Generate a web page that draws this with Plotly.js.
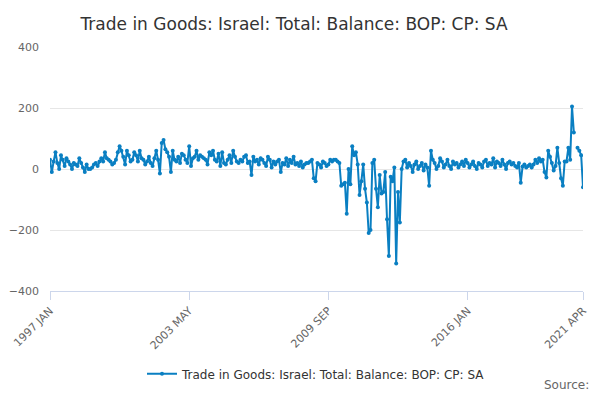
<!DOCTYPE html>
<html>
<head>
<script src="https://cdn.plot.ly/plotly-3.0.1.min.js"></script>
<style>body{margin:0}#chart{width:600px;height:400px}</style>
</head>
<body>
<div id="chart"></div>
<script>
var months = ['JAN','FEB','MAR','APR','MAY','JUN','JUL','AUG','SEP','OCT','NOV','DEC'];
var startYear = 1997;
var values = [
  30, -10, 25, 55, 20, 0, 45, 30, 10, 35, 25, 15,
  0, 20, 15, 10, 35, 20, 5, -10, 15, 0, 0, 5,
  15, 20, 10, 25, 35, 25, 55, 35, 30, 25, 15, 20,
  30, 55, 75, 60, 40, 15, 60, 45, 25, 30, 55, 45,
  25, 60, 35, 30, 15, 25, 40, 20, 10, 35, 60, 30,
  -15, 85, 95, 65, 55, 40, -10, 60, 30, 25, 40, 20,
  50, 45, 30, 20, 75, 10, 35, 40, 60, 30, 45, 40,
  35, 30, 15, 55, 45, 60, 30, 25, 50, 10, 55, 20,
  15, 30, 45, 20, 60, 40, 25, 20, 30, 25, 40, 45,
  20, 25, -20, 40, 25, 30, 15, 35, 30, 20, 10, 40,
  30, 5, 25, 15, 25, 30, -10, 20, 15, 35, 10, 30,
  20, 40, 15, 20, 10, 25, 5, 15, 20, 20, 25, 30,
  -30, -40, 20, 15, 5, 25, 20, 10, 15, 30, 25, 30,
  30, 25, 20, -55, -50, -45, -147, 0, -50, 75, 45, 55,
  15, -85, -40, 15, -65, -110, -210, -200, 20, 30, -65, -125,
  -20, -80, -75, -10, -165, -285, -25, -40, 5, -310, -75, -175,
  0, 25, 30, 5, 20, 10, -10, 15, 25, 0, 10, 20,
  -5, 15, 5, -55, 60, 30, 20, 0, 10, 35, 25, 5,
  15, 30, 10, 0, 25, 15, 20, 5, 15, 25, 10, 30,
  20, 5, 15, 25, 10, 0, 20, 15, 5, 25, 30, 10,
  20, 15, 35, 5, 25, 20, 10, 30, 15, 0, 20, 25,
  15, 20, 10, 5, 20, -45, 8, 15, 5, 10, 15, 5,
  15, 30, 20, 35, 25, 30, -10, -28, 60, 40, 20, -5,
  10, 70, 20, -30, -55, 25, 25, 70, 30, 205, 120, null,
  70, 60, 45, -60
];
var tickLabels = ['1997 JAN', '2003 MAY', '2009 SEP', '2016 JAN', '2021 APR'];

var dates = [];
for (var i = 0; i < values.length; i++) {
    dates.push((startYear + Math.floor(i / 12)) + ' ' + months[i % 12]);
}

var trace = {
    x: dates,
    y: values,
    name: 'Trade in Goods: Israel: Total: Balance: BOP: CP: SA',
    type: 'scatter',
    mode: 'lines+markers',
    line: {color: '#0a7fc2', width: 2},
    marker: {color: '#0a7fc2', size: 4},
    connectgaps: false
};

var layout = {
    width: 600,
    height: 400,
    font: {family: 'DejaVu Sans, sans-serif', color: '#666'},
    title: {
        text: 'Trade in Goods: Israel: Total: Balance: BOP: CP: SA',
        font: {size: 17, color: '#333'},
        x: 0.49, y: 0.955
    },
    margin: {l: 50, r: 17, t: 47, b: 92},
    xaxis: {
        type: 'category',
        tickvals: tickLabels,
        ticktext: tickLabels,
        tickangle: -45,
        tickfont: {size: 11},
        showgrid: false,
        showline: true,
        linecolor: '#ccd6eb',
        ticks: 'outside',
        tickcolor: '#ccd6eb',
        ticklen: 8,
        range: [0, values.length - 1]
    },
    yaxis: {
        range: [-400, 400],
        dtick: 200,
        tickfont: {size: 11},
        gridcolor: '#e6e6e6',
        zeroline: false,
        ticklabelstandoff: 10
    },
    showlegend: true,
    legend: {
        orientation: 'h',
        x: 0.5, xanchor: 'center',
        y: -0.28, yanchor: 'top',
        font: {size: 12, color: '#333'}
    },
    annotations: [{
        text: 'Source:',
        xref: 'paper', yref: 'paper',
        x: 1.015, y: -0.35,
        xanchor: 'right', yanchor: 'top',
        showarrow: false,
        font: {size: 12, color: '#666'}
    }]
};

Plotly.newPlot('chart', [trace], layout, {displayModeBar: false});
</script>
</body>
</html>
